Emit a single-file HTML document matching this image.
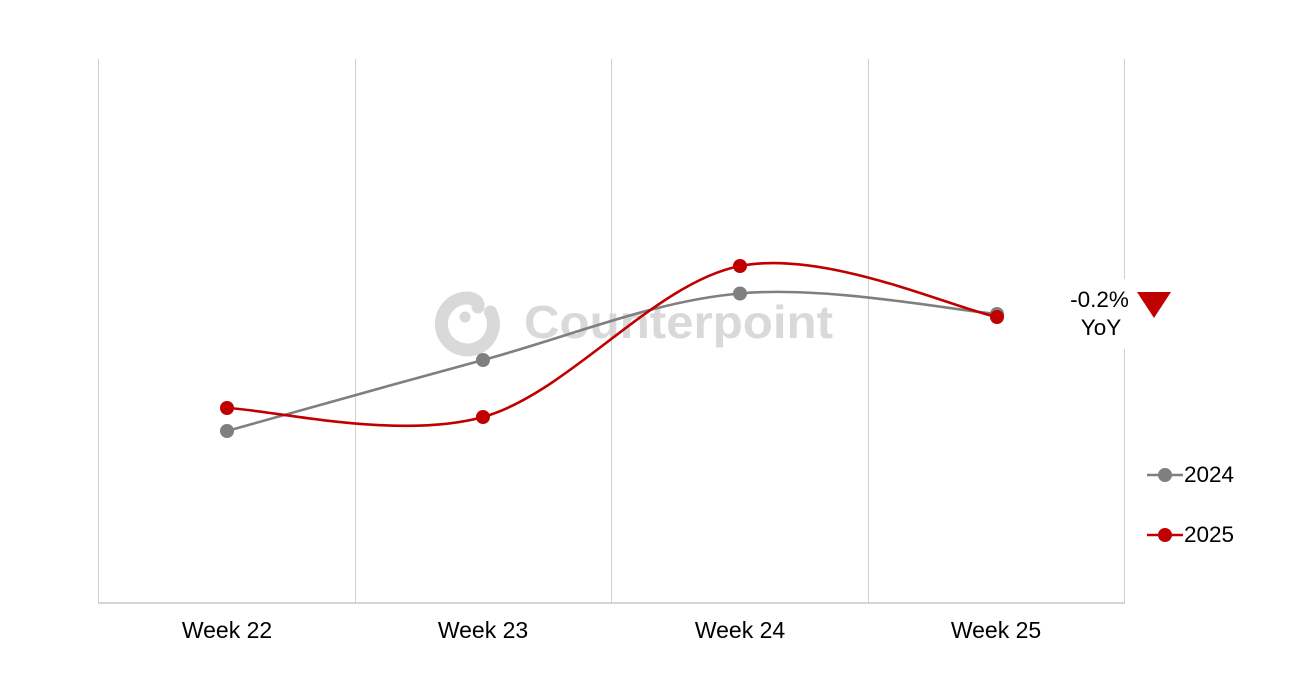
<!DOCTYPE html>
<html>
<head>
<meta charset="utf-8">
<style>
html,body{margin:0;padding:0;background:#fff;}
body{width:1312px;height:682px;overflow:hidden;}
svg{display:block;}
text{font-family:"Liberation Sans",Arial,sans-serif;}
</style>
</head>
<body>
<svg width="1312" height="682" viewBox="0 0 1312 682" xmlns="http://www.w3.org/2000/svg">
  <rect width="1312" height="682" fill="#ffffff"/>

  <!-- watermark -->
  <g fill="none" stroke="#d9d9d9" stroke-width="13" stroke-linecap="round">
    <path d="M 490.5 312 A 26 26 0 1 1 469 298"/>
    <path d="M 469 298 Q 479 300 478 307"/>
  </g>
  <circle cx="465" cy="317" r="5.5" fill="#d9d9d9"/>
  <text x="524" y="338" font-size="46" font-weight="bold" fill="#d9d9d9" textLength="309" lengthAdjust="spacingAndGlyphs">Counterpoint</text>

  <!-- gridlines -->
  <g stroke="#d0d0d0" stroke-width="1">
    <line x1="98.5" y1="59" x2="98.5" y2="603"/>
    <line x1="355.5" y1="59" x2="355.5" y2="603"/>
    <line x1="611.5" y1="59" x2="611.5" y2="603"/>
    <line x1="868.5" y1="59" x2="868.5" y2="603"/>
    <line x1="1124.5" y1="59" x2="1124.5" y2="279"/>
    <line x1="1124.5" y1="349" x2="1124.5" y2="603"/>
  </g>
  <line x1="98" y1="603" x2="1125" y2="603" stroke="#c8c8c8" stroke-width="1.5"/>

  <!-- 2024 series (gray) -->
  <path d="M 227 431 C 269.7 419.2, 397.5 383, 483 360 C 568.5 337, 654.3 300.7, 740 293.5 C 825.7 285.3, 954.2 310.5, 997 314"
        fill="none" stroke="#7f7f7f" stroke-width="2.6"/>
  <g fill="#7f7f7f">
    <circle cx="227" cy="431" r="7"/>
    <circle cx="483" cy="360" r="7"/>
    <circle cx="740" cy="293.5" r="7"/>
    <circle cx="997" cy="314" r="7"/>
  </g>

  <!-- 2025 series (red) -->
  <path d="M 227 408 C 269.7 409.5, 397.5 440.7, 483 417 C 568.5 393.3, 654.3 282.7, 740 266 C 825.7 249.3, 954.2 308.5, 997 317"
        fill="none" stroke="#c00000" stroke-width="2.6"/>
  <g fill="#c00000">
    <circle cx="227" cy="408" r="7"/>
    <circle cx="483" cy="417" r="7"/>
    <circle cx="740" cy="266" r="7"/>
    <circle cx="997" cy="317" r="7"/>
  </g>

  <!-- annotation -->
  <text x="1099.5" y="307" font-size="22.5" fill="#000" text-anchor="middle">-0.2%</text>
  <text x="1101" y="335" font-size="22.5" fill="#000" text-anchor="middle">YoY</text>
  <polygon points="1137,292 1171,292 1154,318" fill="#c00000"/>

  <!-- x labels -->
  <g font-size="23" fill="#000" text-anchor="middle">
    <text x="227" y="638">Week 22</text>
    <text x="483" y="638">Week 23</text>
    <text x="740" y="638">Week 24</text>
    <text x="996" y="638">Week 25</text>
  </g>

  <!-- legend -->
  <line x1="1147" y1="475" x2="1183" y2="475" stroke="#7f7f7f" stroke-width="2.6"/>
  <circle cx="1165" cy="475" r="7" fill="#7f7f7f"/>
  <text x="1184" y="482" font-size="22.5" fill="#000">2024</text>
  <line x1="1147" y1="535" x2="1183" y2="535" stroke="#c00000" stroke-width="2.6"/>
  <circle cx="1165" cy="535" r="7" fill="#c00000"/>
  <text x="1184" y="542" font-size="22.5" fill="#000">2025</text>
</svg>
</body>
</html>
